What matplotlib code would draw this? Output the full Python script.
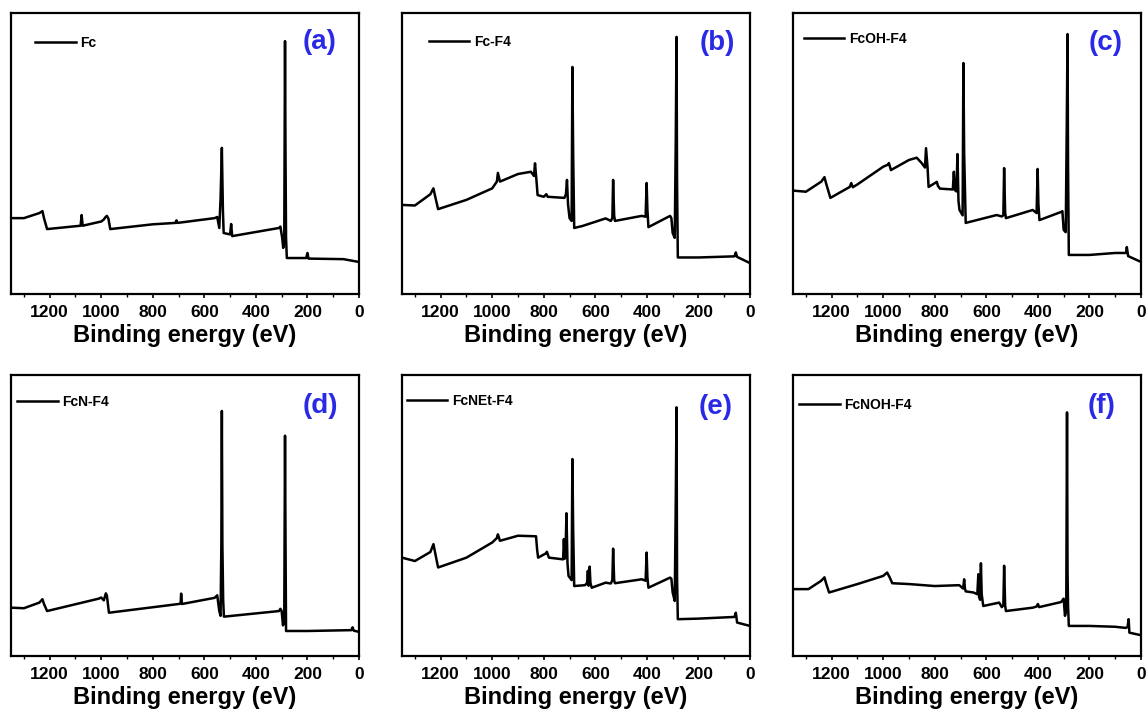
import matplotlib
matplotlib.use('Agg')
import matplotlib.pyplot as plt
from matplotlib.ticker import MultipleLocator

plt.rcParams['font.family'] = ['Liberation Sans', 'DejaVu Sans']
plt.rcParams['font.weight'] = 'bold'

# XPS survey spectra, binding energy (eV) and intensity (% of axis height)
fc_be = [1350, 1300, 1240, 1228, 1222, 1210, 1080, 1076, 1072, 1000, 990, 985, 978, 972, 965,
         800, 712, 708, 704, 560, 550, 542, 537, 532, 528, 525, 500, 496, 492, 310, 305, 298,
         294, 290, 287, 285, 283, 280, 205, 200, 196, 60, 0]
fc_int = [27.0, 27.0, 28.8, 29.5, 27.0, 23.1, 24.3, 28.1, 24.3, 25.8, 26.5, 27.2, 27.8, 26.8, 23.1,
          24.8, 25.3, 26.2, 25.3, 27.0, 27.4, 23.5, 34.0, 52.0, 30.0, 21.7, 21.2, 24.9, 20.6, 23.5, 24.0, 20.0,
          16.4, 19.0, 90.0, 48.0, 20.0, 12.8, 12.8, 14.6, 12.6, 12.4, 11.4]

fcf4_be = [1350, 1300, 1240, 1228, 1222, 1210, 1100, 1000, 982, 978, 970, 900, 850, 838, 834,
           828, 824, 800, 790, 785, 720, 714, 710, 706, 700, 692, 689, 686, 682, 650, 560, 540,
           534, 531, 527, 524, 420, 405, 401, 398, 394, 310, 305, 300, 292, 288, 285, 283, 280,
           200, 60, 55, 50, 0]
fcf4_int = [31.7, 31.5, 35.5, 37.6, 35.0, 30.2, 33.5, 37.6, 40.0, 43.1, 40.0, 42.7, 43.5, 42.0, 46.5,
            40.0, 35.2, 34.6, 35.5, 34.6, 34.2, 35.5, 40.6, 32.0, 27.0, 26.0, 80.8, 50.0, 23.5, 24.2, 26.9, 26.0,
            27.0, 40.6, 28.0, 26.0, 27.8, 27.5, 39.5, 30.0, 23.8, 27.8, 27.0, 21.7, 20.0, 55.0, 91.5, 40.0, 13.0,
            13.0, 13.4, 14.8, 13.2, 11.0]

fcohf4_be = [1350, 1300, 1240, 1228, 1222, 1205, 1130, 1124, 1118, 1100, 1000, 982, 978, 970, 900,
             870, 850, 838, 834, 828, 824, 792, 788, 780, 730, 726, 722, 716, 712, 708, 704, 692,
             689, 686, 680, 560, 540, 534, 531, 527, 524, 420, 405, 401, 398, 394, 310, 305, 300,
             292, 288, 285, 283, 280, 200, 100, 58, 55, 50, 0]
fcohf4_int = [36.8, 36.4, 40.0, 41.6, 39.5, 34.2, 38.1, 39.5, 38.0, 39.0, 45.3, 46.0, 46.6, 44.1, 47.7,
              48.5, 46.5, 45.0, 51.9, 45.0, 38.1, 39.9, 38.5, 37.5, 37.2, 43.5, 37.0, 36.5, 49.8, 33.0, 29.9, 28.0,
              82.2, 50.0, 25.3, 28.1, 27.6, 28.0, 44.8, 29.0, 27.0, 29.9, 28.8, 44.5, 32.0, 26.3, 29.2, 29.5, 22.8,
              22.0, 60.0, 92.5, 45.0, 13.9, 13.9, 14.6, 14.6, 16.7, 13.5, 11.4]

fcnf4_be = [1350, 1300, 1240, 1228, 1222, 1210, 1010, 1000, 990, 982, 978, 970, 700, 692, 690, 687,
            560, 550, 542, 537, 534, 532, 530, 527, 524, 310, 305, 300, 295, 290, 287, 285, 283,
            200, 30, 25, 20, 0]
fcnf4_int = [17.2, 17.0, 19.0, 20.2, 18.5, 16.0, 20.4, 20.8, 19.8, 22.3, 21.5, 15.4, 18.5, 18.7, 22.2, 18.5,
             20.7, 21.6, 16.0, 14.3, 40.0, 87.2, 40.0, 20.0, 14.0, 16.0, 16.8, 16.0, 10.9, 12.0, 78.4, 40.0, 8.9,
             8.9, 9.2, 10.2, 9.0, 8.6]

fcnetf4_be = [1350, 1300, 1240, 1228, 1222, 1210, 1100, 1000, 982, 978, 970, 900, 830, 826, 822,
              792, 788, 780, 725, 722, 719, 716, 712, 708, 704, 692, 689, 686, 682, 640, 632, 629,
              626, 622, 619, 614, 560, 540, 534, 531, 527, 524, 420, 405, 401, 398, 394, 310, 305,
              300, 292, 288, 285, 283, 280, 200, 60, 55, 50, 0]
fcnetf4_int = [35.0, 33.8, 37.0, 39.8, 37.0, 31.5, 35.0, 40.4, 42.0, 43.3, 41.0, 42.8, 42.6, 38.0, 35.0,
               36.5, 37.1, 35.0, 34.4, 41.6, 34.6, 35.5, 50.8, 33.0, 28.5, 27.0, 70.1, 45.0, 24.9, 25.2, 26.0, 30.3,
               25.0, 31.8, 26.0, 24.3, 26.1, 25.8, 27.0, 38.2, 27.0, 25.9, 27.3, 26.8, 36.8, 28.0, 24.3, 27.9, 27.5,
               22.6, 19.6, 55.0, 88.5, 28.0, 13.1, 13.3, 13.9, 15.4, 11.9, 10.7]

fcnohf4_be = [1350, 1290, 1240, 1228, 1222, 1210, 1100, 1000, 985, 975, 965, 900, 800, 705, 690,
              686, 683, 680, 650, 635, 631, 628, 624, 621, 618, 612, 560, 550, 540, 534, 531, 527,
              524, 420, 405, 400, 395, 310, 305, 300, 295, 290, 287, 285, 283, 280, 200, 100, 60,
              52, 48, 45, 0]
fcnohf4_int = [23.8, 23.8, 26.8, 28.0, 26.0, 22.6, 25.6, 28.5, 29.7, 28.0, 25.9, 25.6, 24.9, 25.2, 24.0,
               27.3, 24.0, 23.0, 22.6, 22.0, 29.1, 21.0, 20.0, 33.0, 22.0, 17.8, 18.8, 19.0, 17.4, 18.0, 32.1, 18.0,
               16.0, 17.2, 17.6, 18.5, 17.4, 19.2, 19.8, 20.4, 14.3, 16.0, 86.7, 30.0, 18.0, 10.7, 10.7, 10.4, 10.0,
               10.3, 13.1, 8.3, 7.4]

samples = ['Fc', 'Fc-F4', 'FcOH-F4', 'FcN-F4', 'FcNEt-F4', 'FcNOH-F4']
panel_tags = ['(a)', '(b)', '(c)', '(d)', '(e)', '(f)']
energies = [fc_be, fcf4_be, fcohf4_be, fcnf4_be, fcnetf4_be, fcnohf4_be]
intensities = [fc_int, fcf4_int, fcohf4_int, fcnf4_int, fcnetf4_int, fcnohf4_int]

# axes boxes in figure pixels (left, top) for 1146x713 figure
W, H = 1146, 713
boxes = [(11, 13), (402, 13), (793, 13), (11, 375), (402, 375), (793, 375)]
aw, ah = 348, 281
legend_x = [0.070, 0.078, 0.032, 0.018, 0.015, 0.018]
legend_y = [0.893, 0.897, 0.907, 0.904, 0.907, 0.893]
tag_x = [0.888, 0.905, 0.897, 0.888, 0.900, 0.888]
tag_y = [0.897, 0.893, 0.893, 0.890, 0.886, 0.890]

fig = plt.figure(figsize=(W / 100, H / 100), dpi=100)

for i in range(6):
    left, top = boxes[i]
    ax = fig.add_axes([left / W, (H - top - ah) / H, aw / W, ah / H])
    ax.plot(energies[i], intensities[i], color='black', lw=1.8, label=samples[i])
    ax.set_xlim(1350, 0)
    ax.set_ylim(0, 100)
    ax.set_yticks([])
    ax.xaxis.set_major_locator(MultipleLocator(200))
    ax.xaxis.set_minor_locator(MultipleLocator(100))
    ax.tick_params(axis='x', which='major', direction='out', length=3, width=1.2, labelsize=12.5, pad=5)
    ax.tick_params(axis='x', which='minor', direction='out', length=2, width=1.0)
    for lab in ax.get_xticklabels():
        lab.set_fontweight('bold')
    for s in ax.spines.values():
        s.set_linewidth(1.6)
    ax.set_xlabel('Binding energy (eV)', fontsize=17, fontweight='bold', labelpad=3)
    ax.legend(loc='center left', bbox_to_anchor=(legend_x[i], legend_y[i]), frameon=False,
              handlelength=2.9, handletextpad=0.35, borderpad=0, borderaxespad=0,
              prop={'weight': 'bold', 'size': 10})
    ax.text(tag_x[i], tag_y[i], panel_tags[i], transform=ax.transAxes, ha='center', va='center',
            fontsize=20, fontweight='bold', color='#2a2ae6')

fig.savefig('out.png', dpi=100)
